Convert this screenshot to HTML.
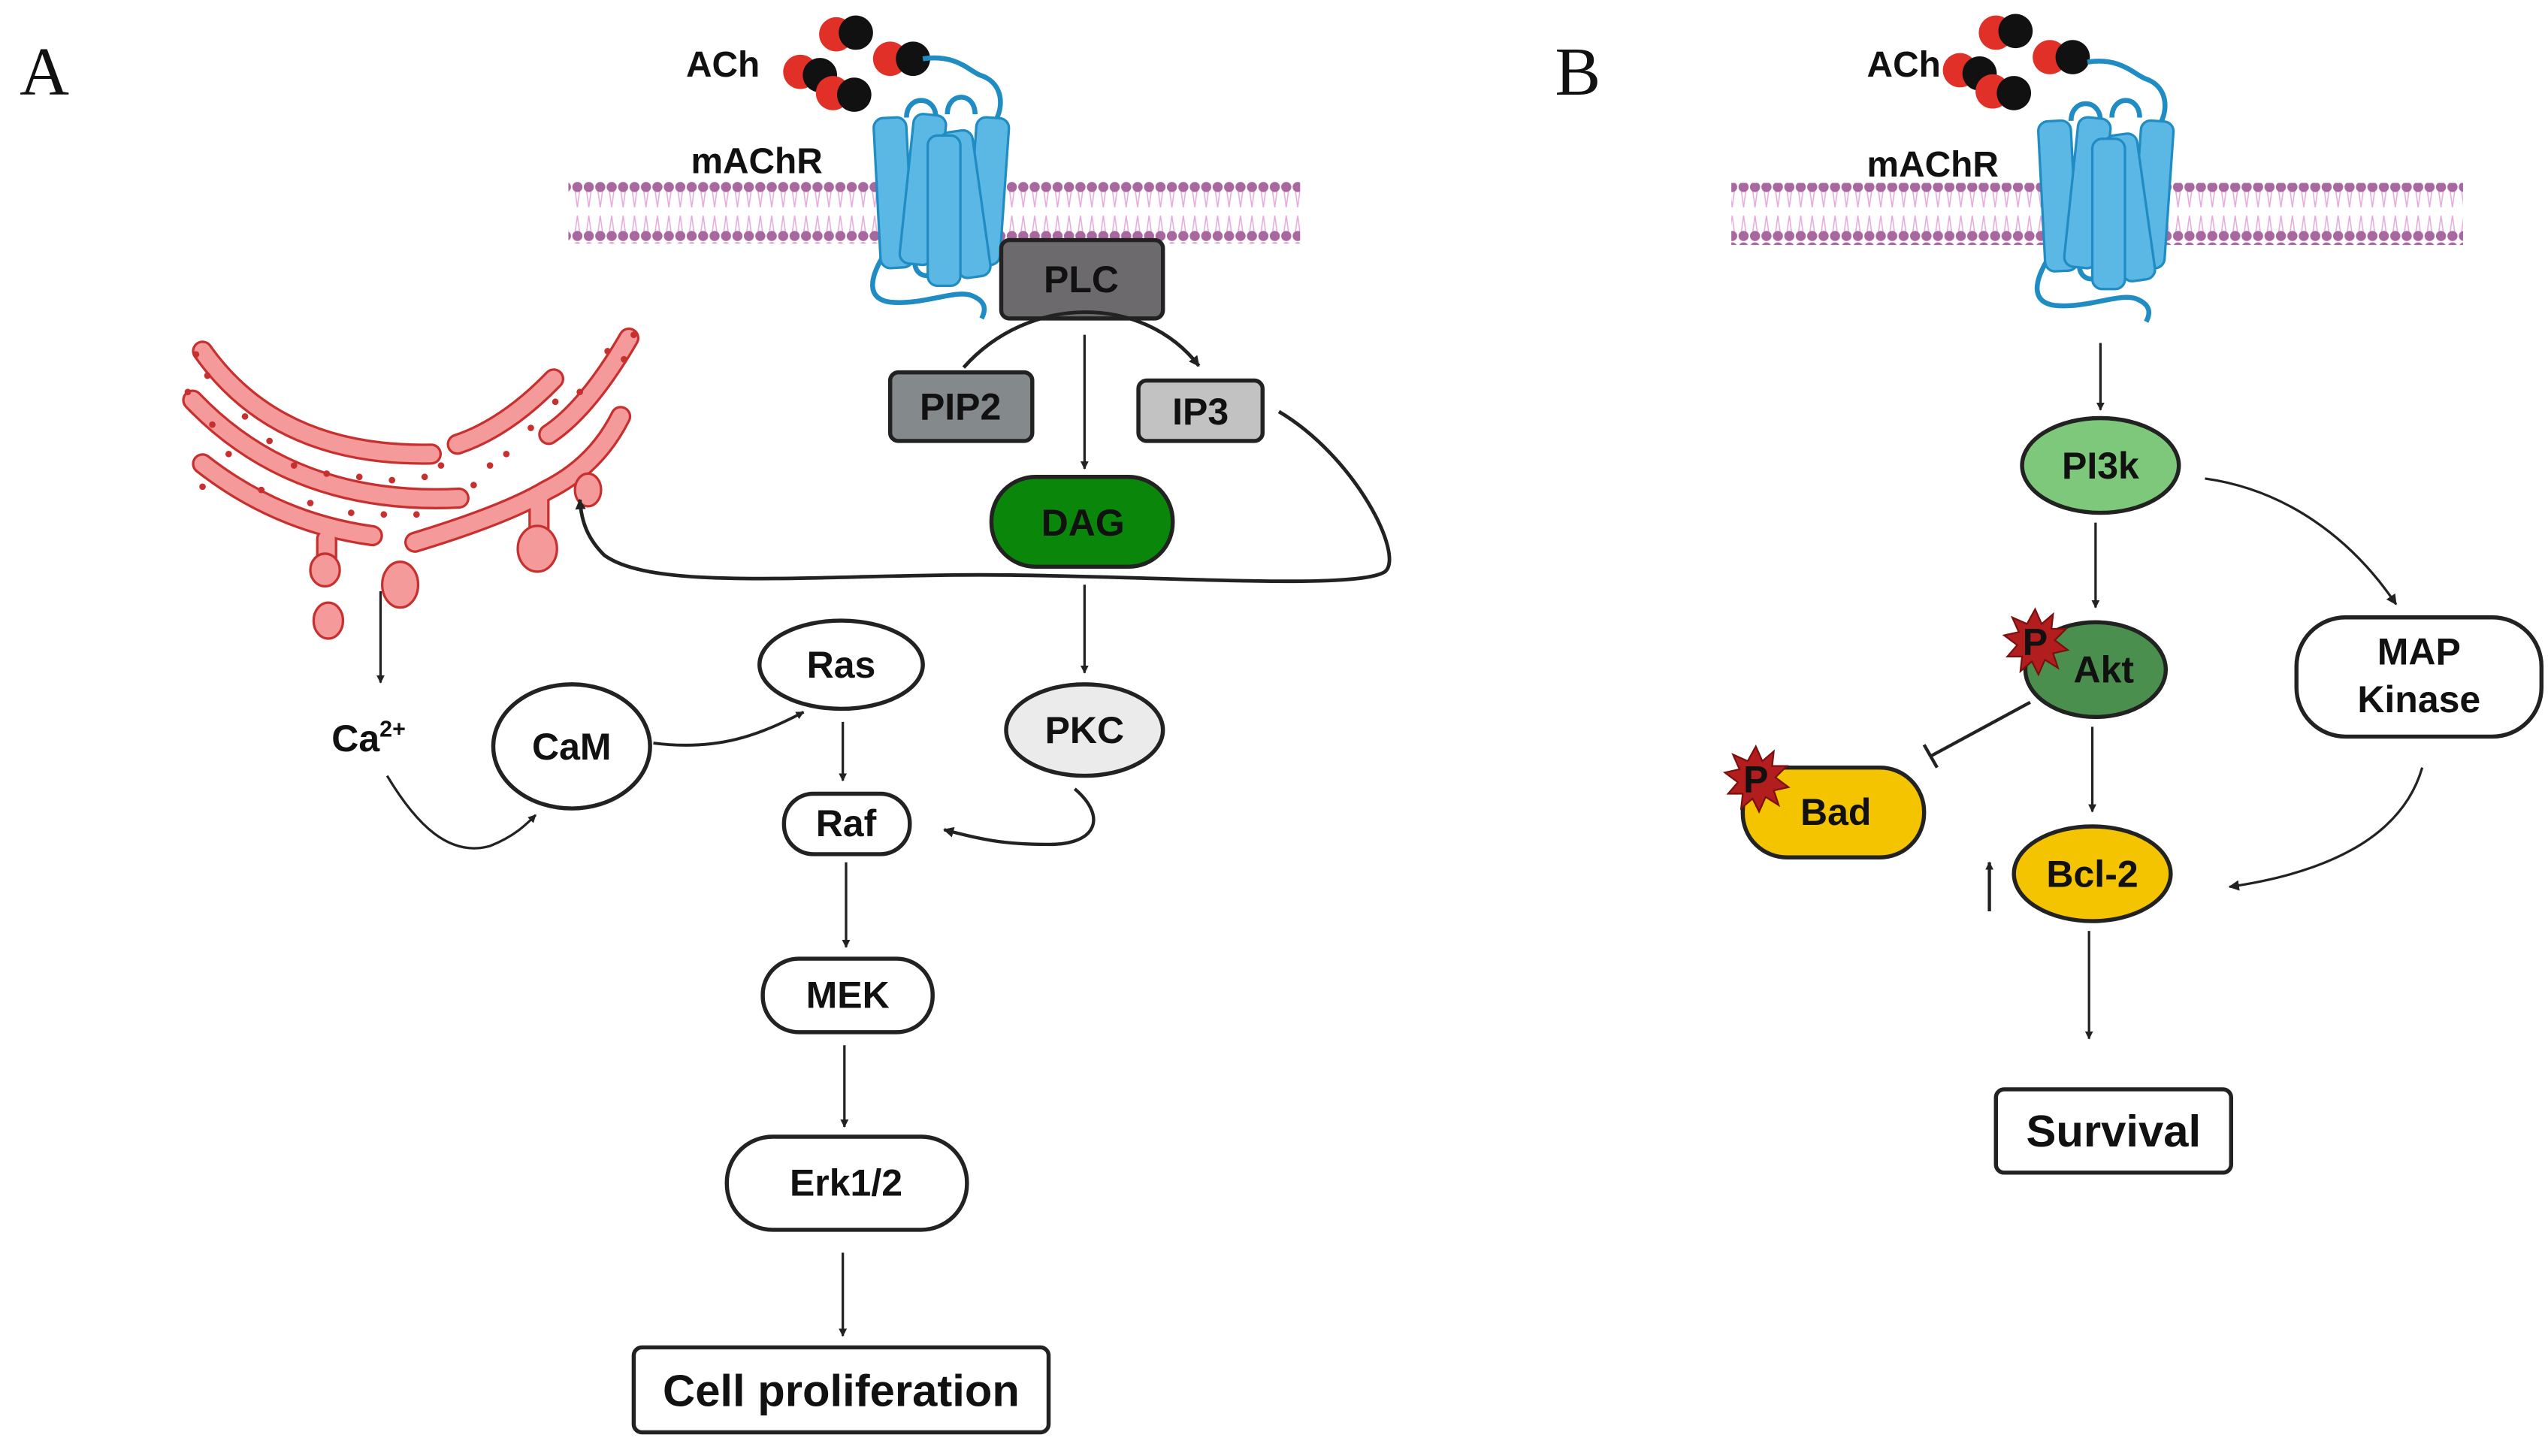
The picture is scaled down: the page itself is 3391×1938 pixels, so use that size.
<!DOCTYPE html>
<html><head><meta charset="utf-8">
<style>
html,body{margin:0;padding:0;background:#fff;}
svg{display:block;}
text{font-family:"Liberation Sans",Arial,sans-serif;font-weight:bold;fill:#111;}
.serif{font-family:"Liberation Serif",serif;font-weight:normal;}
</style></head>
<body>
<svg width="3391" height="1938" viewBox="0 0 1560 891.5" preserveAspectRatio="none" xmlns="http://www.w3.org/2000/svg">
<defs>
  <marker id="ah" viewBox="0 0 10 10" refX="9" refY="5" markerWidth="5" markerHeight="5" orient="auto" markerUnits="userSpaceOnUse">
    <path d="M0,0 L10,5 L0,10 z" fill="#222"/>
  </marker>
  <marker id="ahb" viewBox="0 0 10 10" refX="9" refY="5" markerWidth="6.5" markerHeight="6.5" orient="auto" markerUnits="userSpaceOnUse">
    <path d="M0,0 L10,5 L0,10 z" fill="#222"/>
  </marker>
  <pattern id="mem" width="7" height="37" patternUnits="userSpaceOnUse">
    <path d="M2,5 L3.5,16 L5,5 M2,32 L3.5,21 L5,32" stroke="#e5a9dc" stroke-width="0.7" fill="none"/>
    <circle cx="3.5" cy="3.5" r="3.1" fill="#a8679e"/>
    <circle cx="3.5" cy="33.5" r="3.1" fill="#a8679e"/>
  </pattern>
  <g id="rec">
    <path d="M30,-22 C50,-25 58,-15 65,-12 C78,-8 80,5 75,15 C72,20 70,18 70,14" stroke="#1f8cc4" stroke-width="3" fill="none"/>
    <path d="M5,100 C-2,112 -5,125 10,127 C30,129 50,119 60,123 C70,127 68,133 66,137" stroke="#1f8cc4" stroke-width="3" fill="none"/>
    <path d="M25,102 C25,114 40,114 40,100 M55,102 C55,114 70,114 70,100" stroke="#1f8cc4" stroke-width="3" fill="none"/>
    <path d="M20,14 C20,0 38,0 38,14 M45,12 C45,-2 62,-2 62,12" stroke="#1f8cc4" stroke-width="3" fill="none"/>
    <g fill="#5bb7e3" stroke="#1f8cc4" stroke-width="1.5">
      <rect x="2" y="14" width="20" height="92" rx="6" transform="rotate(-3 12 60)"/>
      <rect x="60" y="14" width="20" height="90" rx="6" transform="rotate(4 70 59)"/>
      <rect x="20" y="12" width="20" height="92" rx="6" transform="rotate(6 30 58)"/>
      <rect x="46" y="22" width="20" height="90" rx="6" transform="rotate(-8 56 67)"/>
      <rect x="33" y="25" width="20" height="92" rx="6"/>
    </g>
  </g>
  <g id="ach">
    <circle cx="0" cy="0" r="10.5" fill="#e03028"/><circle cx="12" cy="-1" r="10.5" fill="#111"/>
    <circle cx="-22" cy="23" r="10.5" fill="#e03028"/><circle cx="-10" cy="25" r="10.5" fill="#111"/>
    <circle cx="-2" cy="36" r="10.5" fill="#e03028"/><circle cx="11" cy="37" r="10.5" fill="#111"/>
    <circle cx="33" cy="15" r="10.5" fill="#e03028"/><circle cx="47" cy="15" r="10.5" fill="#111"/>
  </g>
  <path id="star" d="M0,-20 L4,-11 L11,-17 L10,-8 L19,-8 L12,-1 L20,5 L11,7 L14,16 L6,11 L2,20 L-2,12 L-9,18 L-8,9 L-17,9 L-11,2 L-19,-4 L-10,-6 L-14,-15 L-5,-11 z" fill="#b21d1d" stroke="#7a0f0f" stroke-width="1"/>
</defs>

<text x="12" y="58" class="serif" font-size="42">A</text>
<text x="952" y="58" class="serif" font-size="42">B</text>

<!-- ===== Panel A ===== -->
<rect x="348" y="111" width="448" height="38" fill="url(#mem)"/>
<text x="420" y="47" font-size="22">ACh</text>
<text x="423" y="106" font-size="22">mAChR</text>
<use href="#ach" x="512" y="21"/>
<use href="#rec" x="535" y="58"/>

<g fill="none" stroke-linecap="round">
  <g stroke="#c8302f" stroke-width="13">
    <path d="M124,215 Q170,280 264,278"/>
    <path d="M118,245 Q180,310 281,305"/>
    <path d="M124,284 Q170,320 228,328"/>
    <path d="M339,232 Q310,262 280,272"/>
    <path d="M385,207 Q360,250 336,266"/>
    <path d="M254,332 Q310,315 335,300 Q365,285 380,255"/>
    <path d="M200,330 L200,348"/>
    <path d="M330,305 L330,330"/>
  </g>
  <g stroke="#f49a9a" stroke-width="10">
    <path d="M124,215 Q170,280 264,278"/>
    <path d="M118,245 Q180,310 281,305"/>
    <path d="M124,284 Q170,320 228,328"/>
    <path d="M339,232 Q310,262 280,272"/>
    <path d="M385,207 Q360,250 336,266"/>
    <path d="M254,332 Q310,315 335,300 Q365,285 380,255"/>
    <path d="M200,330 L200,348"/>
    <path d="M330,305 L330,330"/>
  </g>
</g>
<g fill="#f49a9a" stroke="#c8302f" stroke-width="1.5">
  <ellipse cx="201" cy="380" rx="9" ry="11"/>
  <ellipse cx="245" cy="358" rx="11" ry="14"/>
  <ellipse cx="329" cy="336" rx="12" ry="14"/>
  <ellipse cx="360" cy="300" rx="8" ry="10"/>
  <ellipse cx="199" cy="349" rx="9" ry="10"/>
</g>
<g fill="#c8302f">
  <circle cx="120" cy="217" r="2"/><circle cx="127" cy="230" r="2"/><circle cx="115" cy="240" r="2"/><circle cx="130" cy="260" r="2"/>
  <circle cx="150" cy="255" r="2"/><circle cx="165" cy="270" r="2"/><circle cx="180" cy="285" r="2"/><circle cx="200" cy="290" r="2"/>
  <circle cx="220" cy="292" r="2"/><circle cx="240" cy="294" r="2"/><circle cx="260" cy="292" r="2"/><circle cx="270" cy="285" r="2"/>
  <circle cx="290" cy="297" r="2"/><circle cx="300" cy="285" r="2"/><circle cx="310" cy="278" r="2"/><circle cx="325" cy="262" r="2"/>
  <circle cx="340" cy="246" r="2"/><circle cx="355" cy="240" r="2"/><circle cx="372" cy="215" r="2"/><circle cx="388" cy="205" r="2"/>
  <circle cx="382" cy="220" r="2"/><circle cx="160" cy="300" r="2"/><circle cx="190" cy="308" r="2"/><circle cx="215" cy="314" r="2"/>
  <circle cx="235" cy="315" r="2"/><circle cx="255" cy="315" r="2"/><circle cx="124" cy="298" r="2"/><circle cx="140" cy="278" r="2"/>
</g>

<rect x="613" y="147" width="99" height="48" rx="5" fill="#6d6a6e" stroke="#222" stroke-width="2.5"/>
<text x="662" y="179" font-size="23" text-anchor="middle">PLC</text>
<rect x="545" y="228" width="87" height="42" rx="5" fill="#848a8b" stroke="#222" stroke-width="2.5"/>
<text x="588" y="257" font-size="23" text-anchor="middle">PIP2</text>
<rect x="697" y="233" width="76" height="37" rx="5" fill="#c2c2c2" stroke="#222" stroke-width="2.5"/>
<text x="735" y="260" font-size="23" text-anchor="middle">IP3</text>
<rect x="607" y="292" width="111" height="55" rx="27" fill="#0a870a" stroke="#222" stroke-width="2.5"/>
<text x="663" y="328" font-size="23" text-anchor="middle">DAG</text>
<ellipse cx="664" cy="447" rx="48" ry="28" fill="#ebebeb" stroke="#222" stroke-width="2.5"/>
<text x="664" y="455" font-size="23" text-anchor="middle">PKC</text>
<ellipse cx="515" cy="407" rx="50" ry="27" fill="#fff" stroke="#222" stroke-width="2.5"/>
<text x="515" y="415" font-size="23" text-anchor="middle">Ras</text>
<ellipse cx="350" cy="457" rx="48" ry="38" fill="#fff" stroke="#222" stroke-width="2.5"/>
<text x="350" y="465" font-size="23" text-anchor="middle">CaM</text>
<rect x="480" y="486" width="77" height="37" rx="18" fill="#fff" stroke="#222" stroke-width="2.5"/>
<text x="518" y="512" font-size="23" text-anchor="middle">Raf</text>
<rect x="467" y="587" width="104" height="45" rx="22" fill="#fff" stroke="#222" stroke-width="2.5"/>
<text x="519" y="617" font-size="23" text-anchor="middle">MEK</text>
<rect x="445" y="696" width="147" height="57" rx="28" fill="#fff" stroke="#222" stroke-width="2.5"/>
<text x="518" y="732" font-size="23" text-anchor="middle">Erk1/2</text>
<rect x="388" y="825" width="254" height="52" rx="5" fill="#fff" stroke="#222" stroke-width="2.5"/>
<text x="515" y="861" font-size="27.5" text-anchor="middle">Cell proliferation</text>
<text x="203" y="460" font-size="23">Ca<tspan font-size="14" dy="-9">2+</tspan></text>

<g stroke="#222" fill="none" stroke-width="1.5">
  <path d="M664,205 L664,287" marker-end="url(#ah)"/>
  <path d="M590,225 C630,180 700,180 734,224" stroke-width="2.2" marker-end="url(#ahb)"/>
  <path d="M783,252 C830,280 860,340 848,350 C830,362 700,352 600,352 C500,352 400,362 370,340 C360,330 356,320 355,306" stroke-width="2.2" marker-end="url(#ahb)"/>
  <path d="M664,358 L664,412" marker-end="url(#ah)"/>
  <path d="M658,483 C678,500 672,518 640,517 C615,517 600,514 578,508" stroke-width="2" marker-end="url(#ahb)"/>
  <path d="M233,362 L233,418" marker-end="url(#ah)"/>
  <path d="M237,475 C255,505 275,525 300,518 C315,512 322,505 328,499" marker-end="url(#ah)"/>
  <path d="M400,455 C440,460 465,450 492,436" stroke-width="1.8" marker-end="url(#ah)"/>
  <path d="M516,442 L516,478" marker-end="url(#ah)"/>
  <path d="M518,528 L518,580" marker-end="url(#ah)"/>
  <path d="M517,640 L517,690" marker-end="url(#ah)"/>
  <path d="M516,767 L516,818" marker-end="url(#ah)"/>
</g>

<!-- ===== Panel B ===== -->
<rect x="1060" y="112" width="448" height="38" fill="url(#mem)"/>
<text x="1143" y="47" font-size="22">ACh</text>
<text x="1143" y="108" font-size="22">mAChR</text>
<use href="#ach" x="1222" y="20"/>
<use href="#rec" x="1248" y="60"/>

<ellipse cx="1286" cy="285" rx="48" ry="29" fill="#7dc87a" stroke="#222" stroke-width="2.5"/>
<text x="1286" y="293" font-size="23" text-anchor="middle">PI3k</text>
<ellipse cx="1283" cy="410" rx="43" ry="29" fill="#4a8f4e" stroke="#222" stroke-width="2.5"/>
<text x="1288" y="418" font-size="23" text-anchor="middle">Akt</text>
<use href="#star" x="1246" y="393"/>
<text x="1246" y="401" font-size="23" text-anchor="middle">P</text>
<rect x="1067" y="470" width="111" height="55" rx="27" fill="#f5c400" stroke="#222" stroke-width="2.5"/>
<text x="1124" y="505" font-size="23" text-anchor="middle">Bad</text>
<use href="#star" x="1075" y="477"/>
<text x="1075" y="485" font-size="23" text-anchor="middle">P</text>
<ellipse cx="1281" cy="535" rx="48" ry="29" fill="#f5c400" stroke="#222" stroke-width="2.5"/>
<text x="1281" y="543" font-size="23" text-anchor="middle">Bcl-2</text>
<rect x="1406" y="378" width="150" height="73" rx="30" fill="#fff" stroke="#222" stroke-width="2.5"/>
<text x="1481" y="407" font-size="23" text-anchor="middle">MAP</text>
<text x="1481" y="436" font-size="23" text-anchor="middle">Kinase</text>
<rect x="1222" y="667" width="144" height="51" rx="5" fill="#fff" stroke="#222" stroke-width="2.5"/>
<text x="1294" y="702" font-size="27.5" text-anchor="middle">Survival</text>

<g stroke="#222" fill="none" stroke-width="1.5">
  <path d="M1286,210 L1286,251" marker-end="url(#ah)"/>
  <path d="M1283,320 L1283,372" marker-end="url(#ah)"/>
  <path d="M1281,445 L1281,497" marker-end="url(#ah)"/>
  <path d="M1279,570 L1279,636" marker-end="url(#ah)"/>
  <path d="M1218,558 L1218,528" stroke-width="2" marker-end="url(#ah)"/>
  <path d="M1350,293 C1400,300 1440,330 1467,370" marker-end="url(#ahb)"/>
  <path d="M1483,470 C1470,515 1420,535 1365,543" marker-end="url(#ahb)"/>
  <path d="M1243,430 L1182,463" stroke-width="2"/>
  <path d="M1178,456 L1186,470" stroke-width="2"/>
</g>
</svg>
</body></html>
